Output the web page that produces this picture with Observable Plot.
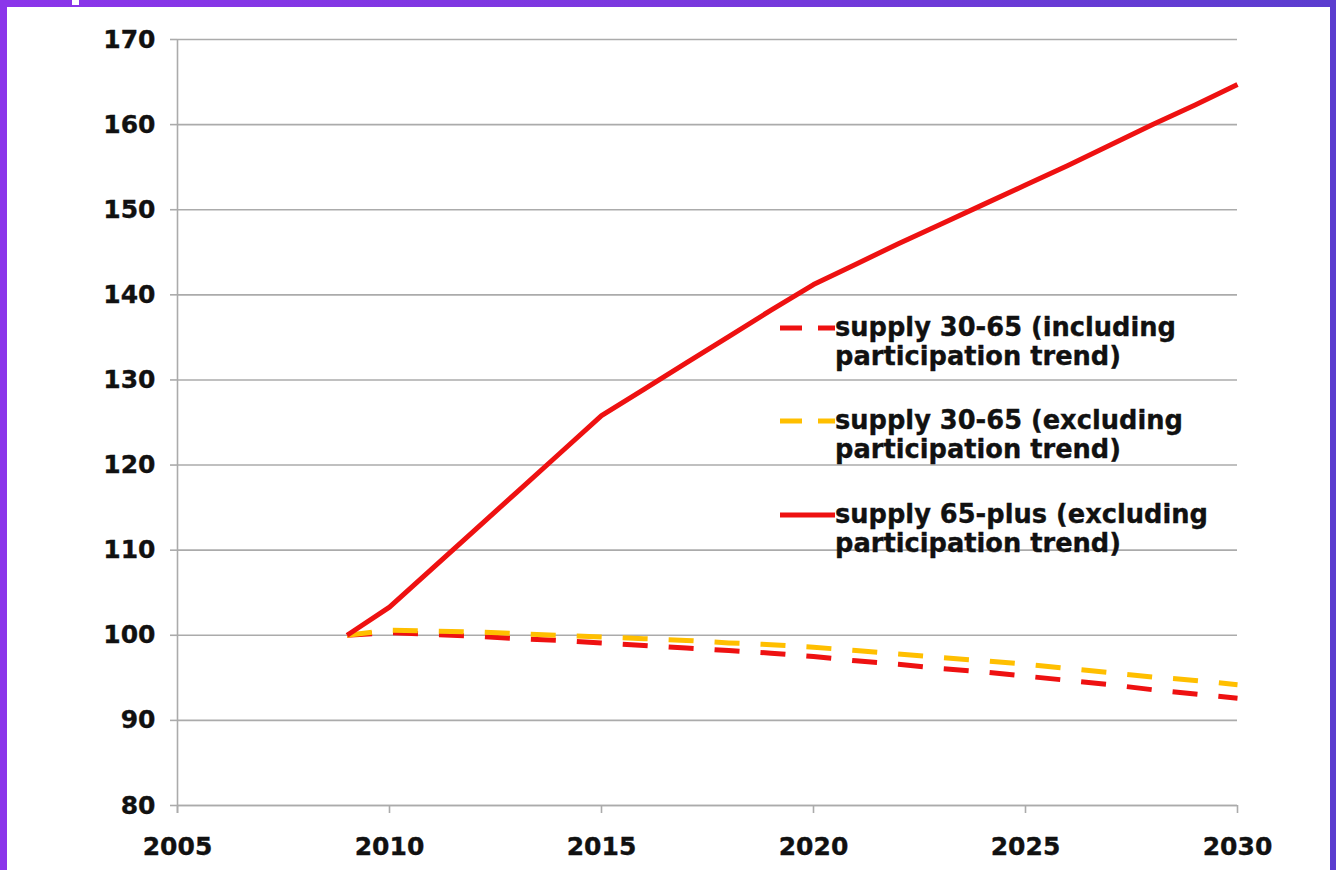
<!DOCTYPE html>
<html>
<head>
<meta charset="utf-8">
<script src="https://cdn.jsdelivr.net/npm/d3@7"></script>
<script src="https://cdn.jsdelivr.net/npm/@observablehq/plot@0.6"></script>
<style>
  html, body { margin: 0; padding: 0; background: #fff; }
  #wrap { position: relative; width: 1336px; height: 870px; overflow: hidden; background: #fff; }
  #chart { position: absolute; left: 0; top: 0; }
  #frame {
    position: absolute; left: 0; top: 0; width: 1336px; height: 870px; box-sizing: border-box;
    border-style: solid; border-width: 7px 6px 0 7px;
    border-image: linear-gradient(90deg, #8b35ea, #7a38de 50%, #5b3dcf) 1;
    pointer-events: none;
  }
  #notch { position: absolute; left: 72px; top: 0; width: 7px; height: 5px; background: #fff; }
  #legend { position: absolute; left: 0; top: 0; font-family: "DejaVu Sans", Verdana, sans-serif; font-weight: bold; font-size: 25.7px; color: #111; -webkit-text-stroke: 0.35px #111; }
  .entry { position: absolute; left: 780px; width: 480px; }
  .entry svg { position: absolute; left: 0; }
  .entry .txt { position: absolute; left: 55px; top: 0; line-height: 29px; white-space: nowrap; }
  svg text { fill: #111; stroke: #111; stroke-width: 0.35px; }
</style>
</head>
<body>
<div id="wrap">
  <div id="chart"></div>
  <div id="legend"></div>
  <div id="frame"></div>
  <div id="notch"></div>
</div>
<script>
const years = [2009,2010,2011,2012,2013,2014,2015,2016,2017,2018,2019,2020,2021,2022,2023,2024,2025,2026,2027,2028,2029,2030];
const incl3065 = [100,100.3,100.1,99.9,99.6,99.4,99.1,98.8,98.5,98.2,97.9,97.5,97.0,96.6,96.1,95.7,95.2,94.7,94.2,93.6,93.1,92.6];
const excl3065 = [100,100.6,100.5,100.4,100.2,100.0,99.8,99.6,99.4,99.1,98.9,98.6,98.2,97.8,97.4,97.0,96.6,96.1,95.6,95.1,94.7,94.2];
const plus65   = [100,103.3,107.8,112.3,116.8,121.3,125.8,128.9,132.0,135.1,138.2,141.2,143.6,146.0,148.3,150.6,152.9,155.2,157.6,160.0,162.3,164.7];
const seriesNames = ["supply 30-65 (including participation trend)", "supply 30-65 (excluding participation trend)", "supply 65-plus (excluding participation trend)"];
const legendLines = [["supply 30-65 (including", "participation trend)"], ["supply 30-65 (excluding", "participation trend)"], ["supply 65-plus (excluding", "participation trend)"]];
const seriesColors = ["#ee1111", "#ffbf00", "#ee1111"];
const seriesDash = ["25,21", "25,21", null];
const xTicks = [2005,2010,2015,2020,2025,2030];
const yTicks = [80,90,100,110,120,130,140,150,160,170];
const xDomain = [2005, 2030];
const yDomain = [80, 170];

const gridColor = "#ababab";
const allSeries = [incl3065, excl3065, plus65];
const rows = (i) => years.map((yr, k) => ({year: yr, value: allSeries[i][k], series: seriesNames[i]}));

const lineMarks = allSeries.map((_, i) => Plot.line(rows(i), {
  x: "year", y: "value", stroke: seriesColors[i], strokeWidth: 5,
  strokeDasharray: seriesDash[i] || undefined, strokeLinejoin: "round", strokeLinecap: "butt"
}));

const chart = Plot.plot({
  width: 1336, height: 870,
  marginLeft: 177, marginRight: 99, marginTop: 39, marginBottom: 65,
  style: {fontFamily: "'DejaVu Sans', Verdana, sans-serif", fontWeight: "bold", fontSize: "25px", color: "#111", background: "transparent"},
  x: {domain: xDomain, ticks: xTicks},
  y: {domain: yDomain, ticks: yTicks},
  marks: [
    Plot.gridY(yTicks, {stroke: gridColor, strokeOpacity: 1, strokeWidth: 1.6}),
    Plot.ruleX([xDomain[0]], {stroke: gridColor, strokeWidth: 1.6, insetBottom: -8}),
    Plot.ruleY([yDomain[0]], {stroke: gridColor, strokeWidth: 1.6}),
    Plot.axisY(yTicks, {tickSize: 7, tickPadding: 15, stroke: gridColor, strokeWidth: 1.6, fill: "#111", label: null}),
    Plot.axisX(xTicks, {tickSize: 8, tickPadding: 24, stroke: gridColor, strokeWidth: 1.6, fill: "#111", tickFormat: d => String(d), label: null}),
    ...lineMarks
  ]
});
document.getElementById("chart").appendChild(chart);

// legend overlay
const legendTops = [313, 406, 500];
const legend = document.getElementById("legend");
legendLines.forEach((lines, i) => {
  const e = document.createElement("div");
  e.className = "entry";
  e.style.top = legendTops[i] + "px";
  const dash = seriesDash[i] ? 'stroke-dasharray="22,16"' : "";
  e.innerHTML = `<svg width="56" height="30" style="top:0"><line x1="0" x2="55" y1="15" y2="15" stroke="${seriesColors[i]}" stroke-width="5" ${dash}/></svg>` +
    `<div class="txt">${lines.join("<br>")}</div>`;
  legend.appendChild(e);
});
</script>
</body>
</html>
